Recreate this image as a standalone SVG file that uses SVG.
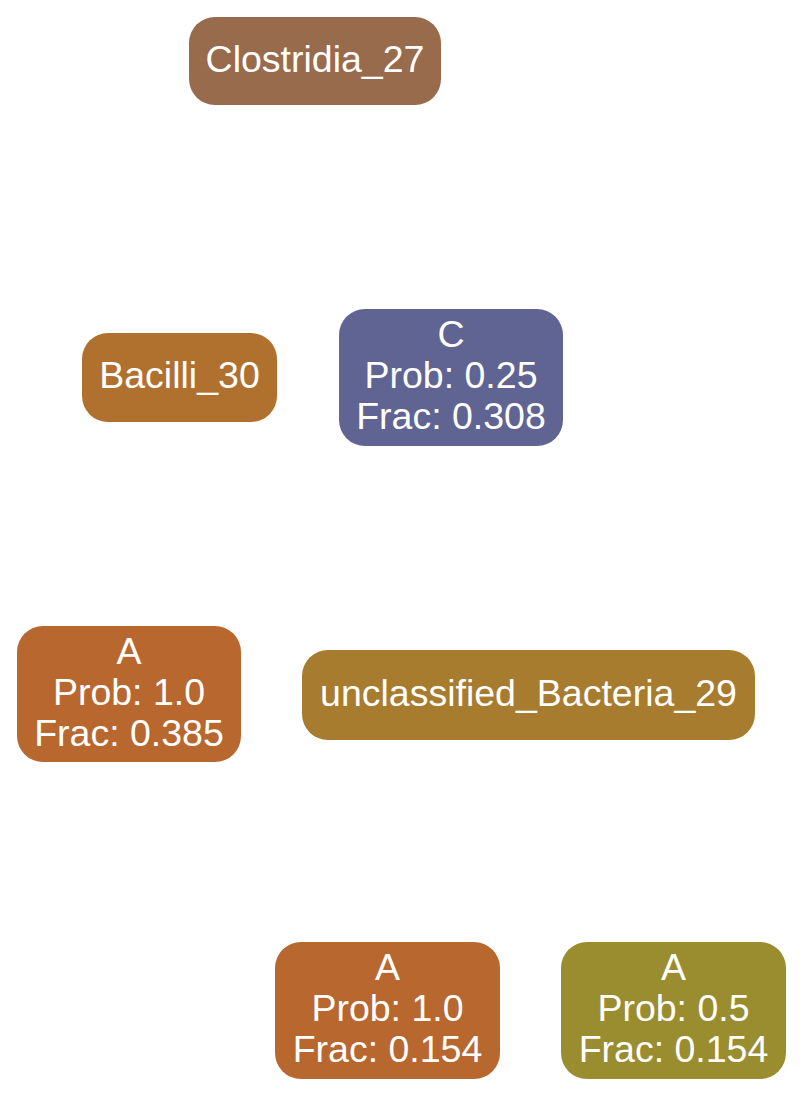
<svg xmlns="http://www.w3.org/2000/svg" width="803" height="1096" viewBox="0 0 803 1096">
<style>
text{font-family:"Liberation Sans",Arial,Helvetica,sans-serif;font-size:37.5px;fill:#ffffff;text-anchor:middle}
</style>
<rect width="803" height="1096" fill="#ffffff"/>
<g id="connectors"></g>
<g id="clostridia_27">
<rect x="189" y="17" width="252" height="88" rx="26" fill="#986b4c"/>
<text x="315" y="72">Clostridia_27</text>
</g>
<g id="bacilli_30">
<rect x="82" y="333" width="195" height="89" rx="26" fill="#b0712f"/>
<text x="179.5" y="388">Bacilli_30</text>
</g>
<g id="c_node">
<rect x="339" y="309" width="224" height="137" rx="26" fill="#606493"/>
<text x="451" y="347">C</text>
<text x="451" y="388">Prob: 0.25</text>
<text x="451" y="429">Frac: 0.308</text>
</g>
<g id="a_0385">
<rect x="17" y="626" width="224" height="136" rx="26" fill="#b8672f"/>
<text x="129" y="664">A</text>
<text x="129" y="705">Prob: 1.0</text>
<text x="129" y="746">Frac: 0.385</text>
</g>
<g id="unclassified_bacteria_29">
<rect x="302" y="650" width="453" height="90" rx="26" fill="#a87c2f"/>
<text x="528.5" y="706">unclassified_Bacteria_29</text>
</g>
<g id="a_0154_left">
<rect x="275" y="942" width="225" height="137" rx="26" fill="#b8672f"/>
<text x="387.5" y="980">A</text>
<text x="387.5" y="1021">Prob: 1.0</text>
<text x="387.5" y="1062">Frac: 0.154</text>
</g>
<g id="a_0154_right">
<rect x="561" y="942" width="225" height="137" rx="26" fill="#9a8d2f"/>
<text x="673.5" y="980">A</text>
<text x="673.5" y="1021">Prob: 0.5</text>
<text x="673.5" y="1062">Frac: 0.154</text>
</g>
</svg>
